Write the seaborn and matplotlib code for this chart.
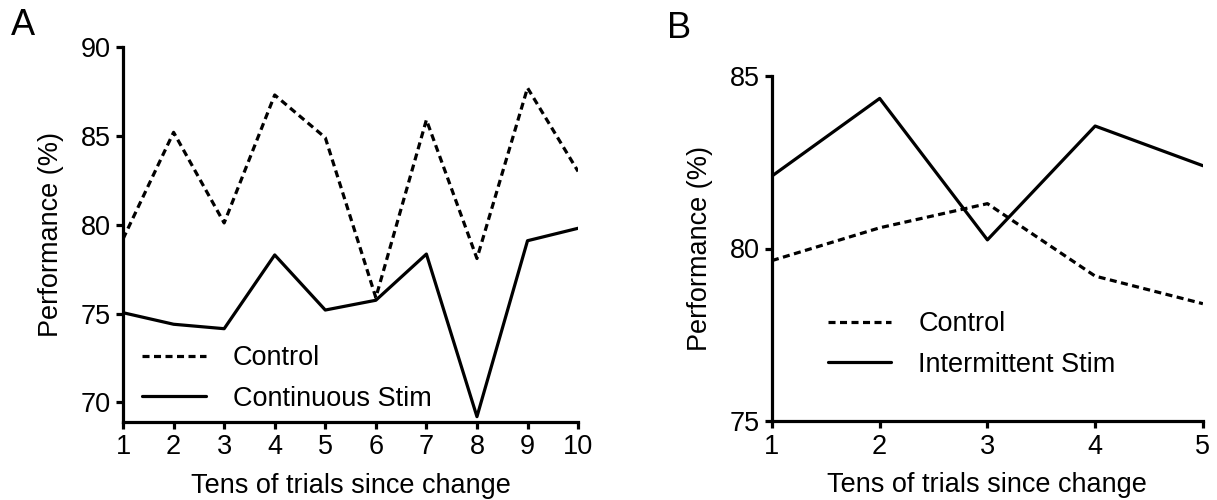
import numpy as np
import pandas as pd
import seaborn as sns
import matplotlib
matplotlib.use("Agg")
import matplotlib.pyplot as plt

sns.set_style("ticks")
plt.rcParams["font.family"] = ["Liberation Sans", "DejaVu Sans"]
for key in ["axes.edgecolor", "text.color", "xtick.color", "ytick.color",
            "axes.labelcolor"]:
    plt.rcParams[key] = "black"

# ---- data ----
trials_a = [1, 2, 3, 4, 5, 6, 7, 8, 9, 10]
control_a = [79.2, 85.2, 80.1, 87.3, 84.9, 75.9, 85.9, 78.1, 87.7, 83.0]
stim_a = [75.05, 74.4, 74.15, 78.3, 75.2, 75.75, 78.35, 69.2, 79.1, 79.8]

trials_b = [1, 2, 3, 4, 5]
control_b = [79.65, 80.6, 81.3, 79.2, 78.4]
stim_b = [82.1, 84.35, 80.25, 83.55, 82.4]

LW = 2.3
DOT = (0, (2.2, 1.4))
FS = 19.5

fig = plt.figure(figsize=(12.17, 5.0), dpi=100)
ax_a = fig.add_axes([0.1011, 0.156, 0.3739, 0.75])
ax_b = fig.add_axes([0.6343, 0.158, 0.3541, 0.69])


def style_axes(ax):
    sns.despine(ax=ax)
    for s in ["left", "bottom"]:
        ax.spines[s].set_linewidth(LW)
    ax.tick_params(axis="both", direction="out", length=5, width=LW,
                   labelsize=FS, pad=4)
    ax.set_xlabel("Tens of trials since change", fontsize=FS, labelpad=9)
    ax.set_ylabel("Performance (%)", fontsize=FS, labelpad=12)


# panel A
sns.lineplot(x=trials_a, y=control_a, ax=ax_a, color="black", lw=LW,
             linestyle=DOT, label="Control")
sns.lineplot(x=trials_a, y=stim_a, ax=ax_a, color="black", lw=LW,
             label="Continuous Stim")
ax_a.set_xlim(1, 10)
ax_a.set_ylim(68.9, 90)
ax_a.set_xticks(trials_a)
ax_a.set_yticks([70, 75, 80, 85, 90])
style_axes(ax_a)
ax_a.legend(loc="center left", bbox_to_anchor=(0.1167, 0.243),
            bbox_transform=fig.transFigure, frameon=False, fontsize=FS,
            handlelength=2.35, handletextpad=1.0, labelspacing=0.55,
            borderpad=0, borderaxespad=0)

# panel B
sns.lineplot(x=trials_b, y=control_b, ax=ax_b, color="black", lw=LW,
             linestyle=DOT, label="Control")
sns.lineplot(x=trials_b, y=stim_b, ax=ax_b, color="black", lw=LW,
             label="Intermittent Stim")
ax_b.set_xlim(1, 5)
ax_b.set_ylim(75, 85)
ax_b.set_xticks(trials_b)
ax_b.set_yticks([75, 80, 85])
style_axes(ax_b)
ax_b.legend(loc="center left", bbox_to_anchor=(0.680, 0.311),
            bbox_transform=fig.transFigure, frameon=False, fontsize=FS,
            handlelength=2.35, handletextpad=1.0, labelspacing=0.55,
            borderpad=0, borderaxespad=0)

fig.text(0.009, 0.984, "A", fontsize=26, ha="left", va="top")
fig.text(0.548, 0.979, "B", fontsize=26, ha="left", va="top")

fig.savefig("out.png", dpi=100)
